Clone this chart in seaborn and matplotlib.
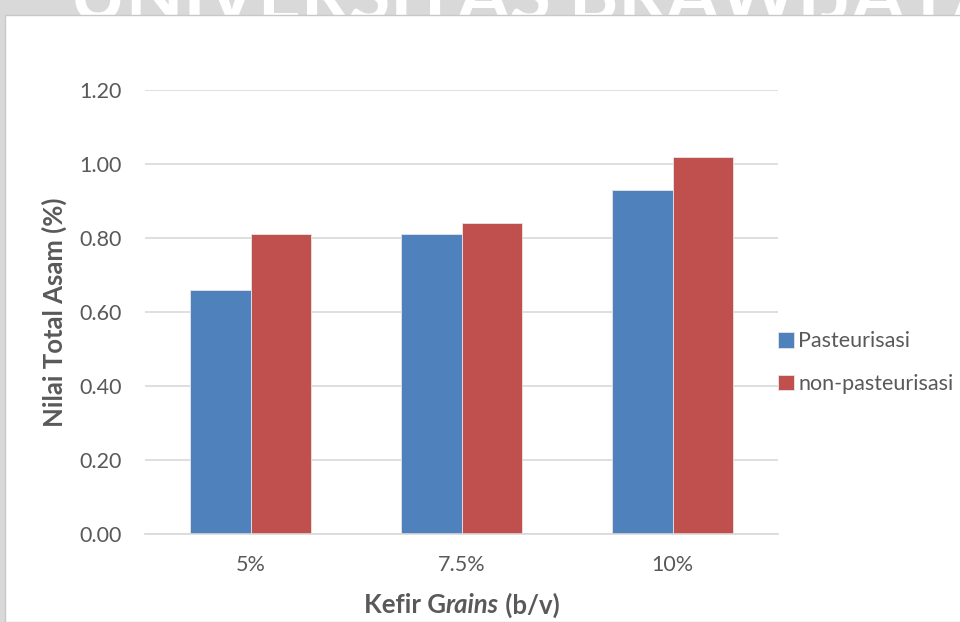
import matplotlib
matplotlib.use("Agg")
import matplotlib.pyplot as plt
from matplotlib.patches import Rectangle
import seaborn as sns
import pandas as pd

# data
konsentrasi = ["5%", "7.5%", "10%"]
pasteurisasi = [0.66, 0.81, 0.93]
non_pasteurisasi = [0.81, 0.84, 1.02]
y_ticks = [0.0, 0.2, 0.4, 0.6, 0.8, 1.0, 1.2]

df = pd.DataFrame({
    "kefir": konsentrasi * 2,
    "nilai": pasteurisasi + non_pasteurisasi,
    "perlakuan": ["Pasteurisasi"] * 3 + ["non-pasteurisasi"] * 3,
})

sns.set_theme(style="white")
plt.rcParams["font.family"] = ["Lato", "DejaVu Sans"]
txt = "#595959"
grid = "#d9d9d9"

fig = plt.figure(figsize=(9.6, 6.22), dpi=100)
fig.patch.set_facecolor("#d9d9d9")

# watermark behind the chart area (only its lower edge shows)
fig.text(0.56, 1.0, "UNIVERSITAS BRAWIJAYA", ha="center", va="center",
         fontsize=54, fontweight="bold", color="white", zorder=0)
fig.patches.append(Rectangle((5 / 960, 0), 1, 1 - 15 / 622, transform=fig.transFigure,
                             facecolor="white", edgecolor="#c8c8c8", lw=1, zorder=1))

ax = fig.add_axes([145 / 960, 1 - 534 / 622, (778 - 145) / 960, (534 - 90) / 622])
ax.set_zorder(2)
ax.patch.set_alpha(0)

sns.barplot(data=df, x="kefir", y="nilai", hue="perlakuan", ax=ax,
            palette=["#4F81BD", "#C0504D"], width=0.57, saturation=1,
            edgecolor="#e6e6e6", linewidth=0.6, errorbar=None)

ax.set_ylim(0, 1.2)
ax.set_yticks(y_ticks)
ax.set_yticklabels([f"{v:.2f}" for v in y_ticks])
ax.yaxis.grid(True, color=grid, lw=1.2)
ax.set_axisbelow(True)
for s in ["top", "right", "left"]:
    ax.spines[s].set_visible(False)
ax.spines["bottom"].set_color(grid)
ax.spines["bottom"].set_linewidth(1.2)
ax.tick_params(axis="both", length=0, labelsize=15.5, colors=txt)
ax.tick_params(axis="y", pad=16.5)
ax.tick_params(axis="x", pad=15)

ax.set_ylabel("Nilai Total Asam (%)", fontsize=18.5, fontweight="bold", color=txt)
ax.yaxis.set_label_coords((67 - 145) / 633, 0.5)
ax.set_xlabel("")

leg = ax.legend(loc="center left", bbox_to_anchor=(1.0, 0.386), frameon=False,
                fontsize=15.5, labelcolor=txt, handlelength=0.75, handleheight=0.75,
                handletextpad=0.2, labelspacing=1.05, borderaxespad=0, borderpad=0)

# x label with italic part: Kefir G*rains* (b/v)
parts = [("Kefir G", "normal"), ("rains", "italic"), (" (b/v)", "normal")]
texts = [fig.text(0, 1 - 605 / 622, p, fontsize=18.5, fontweight="bold",
                  style=st, color=txt, va="center", ha="left", zorder=3) for p, st in parts]
fig.canvas.draw()
r = fig.canvas.get_renderer()
widths = [t.get_window_extent(r).width for t in texts]
x = (461.5 - sum(widths) / 2) / 960
for t, w in zip(texts, widths):
    t.set_x(x)
    x += w / 960

fig.savefig("out.png", dpi=100, facecolor=fig.get_facecolor())
